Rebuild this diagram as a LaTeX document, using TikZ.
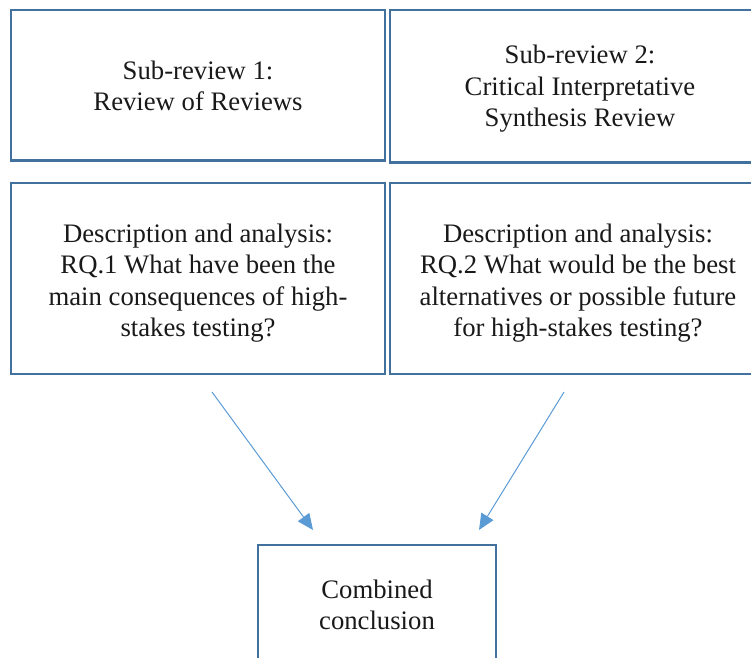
\documentclass[tikz,border=0pt]{standalone}
\usepackage{fontspec}
\setmainfont{Liberation Serif}
\usetikzlibrary{arrows.meta}
\definecolor{boxblue}{HTML}{41719C}
\definecolor{arrowblue}{HTML}{5B9BD5}
\tikzset{
  box/.style={draw=boxblue, line width=2.2pt, rectangle, inner sep=0pt, outer sep=0pt},
  txt/.style={align=center, inner sep=0pt, font=\fontsize{26.7}{31.5}\selectfont, text=black!90},
  conn/.style={draw=arrowblue, line width=1pt, -{Triangle[length=16pt,width=14pt]}}
}
\begin{document}
\begin{tikzpicture}[x=1pt,y=-1pt]
\useasboundingbox (0,0) rectangle (751,657);
\clip (0,0) rectangle (751,657);
\node[box, minimum width=374pt, minimum height=150.5pt] (b1) at (198,85.25) {};
\node[box, minimum width=380pt, minimum height=152.5pt] (b2) at (580,86.25) {};
\node[box, minimum width=374pt, minimum height=191pt] (b3) at (198,278.5) {};
\node[box, minimum width=380pt, minimum height=191pt] (b4) at (580,278.5) {};
\node[box, minimum width=238pt, minimum height=120pt] (b5) at (377,605) {};
\node[txt] (t1) at ([yshift=-0.5pt]b1.center) {Sub-review 1:\\Review of Reviews};
\node[txt] (t2) at ([yshift=-2.5pt]b2.center) {Sub-review 2:\\Critical Interpretative\\Synthesis Review};
\node[txt] (t3) at ([yshift=-4.5pt]b3.center) {Description and analysis:\\RQ.1 What have been the\\main consequences of high-\\stakes testing?};
\node[txt] (t4) at ([yshift=-4.5pt,xshift=-2pt]b4.center) {Description and analysis:\\RQ.2 What would be the best\\alternatives or possible future\\for high-stakes testing?};
\node[txt] (t5) at (b5.center) {Combined\\conclusion};
\coordinate (s1) at (212,392);
\coordinate (e1) at (313,530);
\coordinate (s2) at (564,392);
\coordinate (e2) at (479,530);
\draw[conn] (s1) -- (e1);
\draw[conn] (s2) -- (e2);
\end{tikzpicture}
\end{document}
